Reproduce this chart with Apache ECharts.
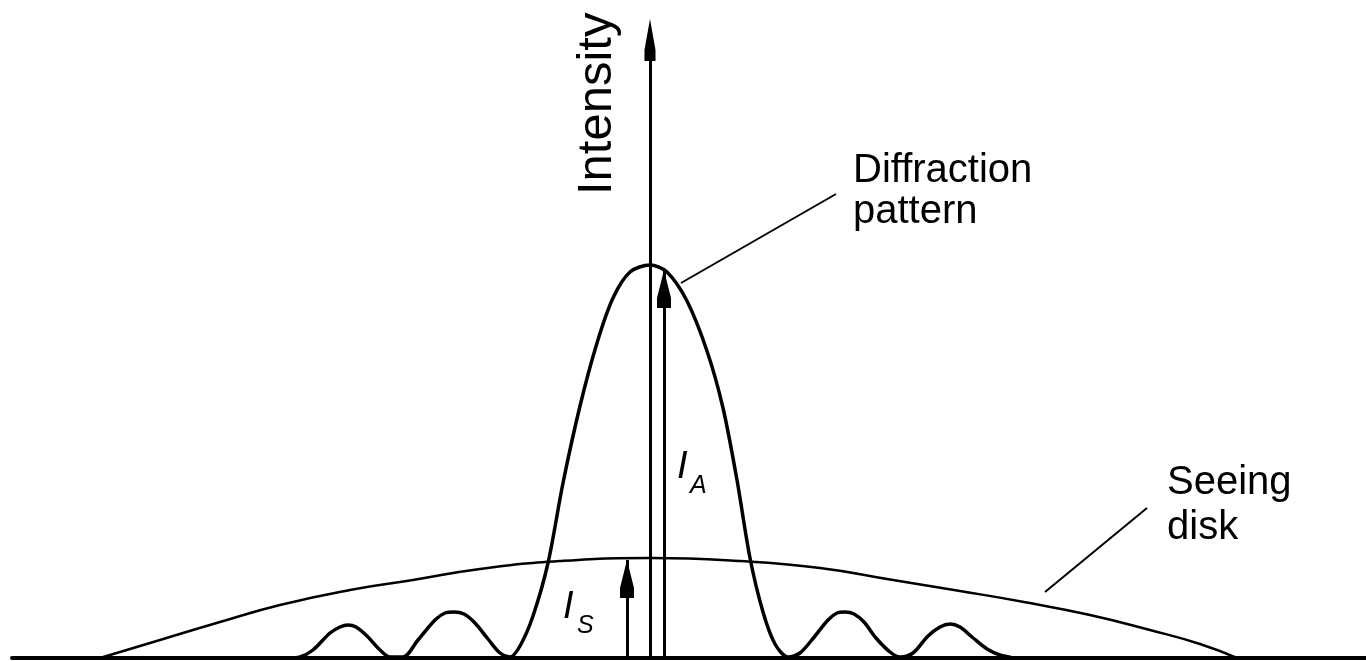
<!DOCTYPE html>
<html>
<head>
<meta charset="utf-8">
<script src="https://cdn.jsdelivr.net/npm/echarts@6/dist/echarts.min.js"></script>
<style>
html,body{margin:0;padding:0;background:#fff;}
#chart{width:1366px;height:661px;}
</style>
</head>
<body>
<div id="chart"></div>
<script>
// Position across the image (arbitrary units, 0 = optical axis) and intensity (arbitrary units)
var diffraction = [
  [-362,0],[-350,1],[-337,8],[-320,25],[-310,31],[-302,33],[-294,31],[-283,22],[-270,8],[-260,1],
  [-247,1],[-232,18],[-215,38],[-205,45],[-196,46],[-186,44],[-175,35],[-162,19],[-150,5],[-140,1],
  [-130,12],[-117,42],[-102,95],[-87,175],[-70,252],[-53,315],[-37,360],[-20,386],
  [0,393],
  [17,386],[37,357],[57,307],[73,250],[87,178],[100,100],[113,46],[125,14],
  [138,1],[150,5],[165,22],[178,38],[187,45],[195,46],[204,44],[214,36],[226,20],[240,6],[250,1],
  [263,5],[278,22],[290,31],[300,34],[310,31],[322,21],[337,9],[350,3],[363,0]
];
var seeing = [
  [-550,0],[-490,18],[-430,36],[-370,53],[-300,68],[-237,78],[-170,89],[-90,97],
  [0,100],
  [90,97],[170,90],[243,78],[310,67],[374,56],[440,43],[500,28],[550,14],[587,0]
];
// Peak intensities marked by arrows: [position, intensity]
var peakA = [14, 388];   // I_A, diffraction-limited peak
var peakS = [-23, 98];   // I_S, seeing-disk peak
// Leader lines for the annotations
var leaderDiffraction = [[31,375],[186,464]];
var leaderSeeing = [[395,66],[497,150]];
var axisTitle = 'Intensity';
var labelDiffraction = 'Diffraction\npattern';
var labelSeeing = 'Seeing\ndisk';

var FONT = "'Liberation Sans', Arial, sans-serif";
var arrowHead = 'path://M5,0 L10,28 L10,38 L0,38 L0,28 Z';

var chart = echarts.init(document.getElementById('chart'), null, {renderer:'canvas'});
chart.setOption({
  backgroundColor:'#fff',
  animation:false,
  grid:{left:12,right:0,top:40,bottom:3},
  xAxis:{
    type:'value', min:-638, max:716,
    axisLine:{show:true, onZero:true, lineStyle:{color:'#000', width:4}},
    axisTick:{show:false}, axisLabel:{show:false}, splitLine:{show:false}
  },
  yAxis:{
    type:'value', min:0, max:618,
    name:axisTitle, nameLocation:'end', nameGap:-155, nameRotate:90,
    nameTextStyle:{fontFamily:FONT, fontSize:49, color:'#000', align:'left', verticalAlign:'bottom', lineHeight:50, padding:[0,0,28,0]},
    axisLine:{show:true, onZero:true, symbol:['none', arrowHead], symbolSize:[14,42], lineStyle:{color:'#000', width:3}},
    axisTick:{show:false}, axisLabel:{show:false}, splitLine:{show:false}
  },
  series:[
    {
      name:'Seeing disk', type:'line', data:seeing, smooth:0.5, symbol:'none',
      lineStyle:{color:'#000', width:2.5}, z:3
    },
    {
      name:'Diffraction pattern', type:'line', data:diffraction, smooth:0.3, symbol:'none',
      lineStyle:{color:'#000', width:3.5}, z:4,
      markLine:{
        silent:true, symbol:'none', label:{show:false},
        lineStyle:{color:'#000', width:3, type:'solid', opacity:1},
        data:[
          [{coord:[peakA[0],0]},{coord:peakA}],
          [{coord:[peakS[0],0]},{coord:peakS}]
        ]
      }
    },
    {
      name:'Arrow heads', type:'scatter', data:[peakA, peakS],
      symbol:arrowHead, symbolSize:[14,38], symbolOffset:[0,'50%'],
      itemStyle:{color:'#000', opacity:1}, silent:true, z:5
    },
    {
      name:'Leader diffraction', type:'line', data:leaderDiffraction, symbol:'none',
      lineStyle:{color:'#000', width:2}, silent:true
    },
    {
      name:'Leader seeing', type:'line', data:leaderSeeing, symbol:'none',
      lineStyle:{color:'#000', width:2}, silent:true
    }
  ],
  graphic:[
    {type:'text', x:853, y:150, style:{text:labelDiffraction, font:'40px '+FONT, lineHeight:41, fill:'#000', align:'left', verticalAlign:'top'}},
    {type:'text', x:1167, y:460, style:{text:labelSeeing, font:'40px '+FONT, lineHeight:45, fill:'#000', align:'left', verticalAlign:'top'}},
    {type:'text', x:677, y:467, style:{text:'I', font:'italic 38px '+FONT, fill:'#000', align:'left', verticalAlign:'middle'}},
    {type:'text', x:690, y:486, style:{text:'A', font:'italic 25px '+FONT, fill:'#000', align:'left', verticalAlign:'middle'}},
    {type:'text', x:563, y:607, style:{text:'I', font:'italic 38px '+FONT, fill:'#000', align:'left', verticalAlign:'middle'}},
    {type:'text', x:577, y:626, style:{text:'S', font:'italic 25px '+FONT, fill:'#000', align:'left', verticalAlign:'middle'}}
  ]
});
</script>
</body>
</html>
